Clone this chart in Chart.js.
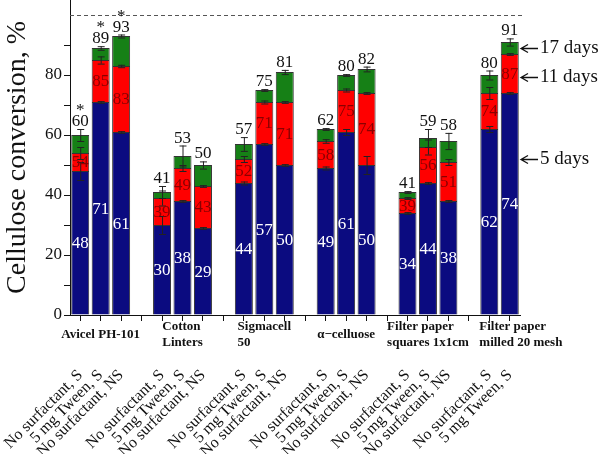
<!DOCTYPE html>
<html>
<head>
<meta charset="utf-8">
<script src="https://cdn.jsdelivr.net/npm/chart.js@4.4.0/dist/chart.umd.min.js"></script>
<style>
  html, body { margin: 0; padding: 0; background: #fff; }
</style>
</head>
<body>
<canvas id="myChart" width="598" height="454"></canvas>
<script>
// one slot per bar, '' slots are the gaps between substrates
var sampleLabels = [
    'No surfactant, S', '5 mg Tween, S', 'No surfactant, NS', '',
    'No surfactant, S', '5 mg Tween, S', 'No surfactant, NS', '',
    'No surfactant, S', '5 mg Tween, S', 'No surfactant, NS', '',
    'No surfactant, S', '5 mg Tween, S', 'No surfactant, NS', '',
    'No surfactant, S', '5 mg Tween, S', 'No surfactant, NS', '',
    'No surfactant, S', '5 mg Tween, S'
];

// cumulative conversion (%) after 5, 11 and 17 days
var day5 = [48, 71, 61, null, 30, 38, 29, null, 44, 57, 50, null, 49, 61, 50, null, 34, 44, 38, null, 62, 74];
var day11 = [54, 85, 83, null, 39, 49, 43, null, 52, 71, 71, null, 58, 75, 74, null, 39, 56, 51, null, 74, 87];
var day17 = [60, 89, 93, null, 41, 53, 50, null, 57, 75, 81, null, 62, 80, 82, null, 41, 59, 58, null, 80, 91];

// error bars (+/-) at the top of each segment
var err5 = [3, 0.3, 0.3, null, 3, 0.3, 0.3, null, 0.5, 0.3, 0.3, null, 0.5, 1, 3, null, 0.3, 0.3, 0.3, null, 1, 0.3];
var err11 = [2, 1.2, 0.4, null, 2.5, 1, 0.3, null, 1, 0.5, 0.3, null, 0.6, 0.5, 0.3, null, 0.3, 2.5, 1, null, 2, 0.3];
var err17 = [2, 0.6, 0.5, null, 2, 3.5, 1.2, null, 2.3, 0.3, 0.7, null, 0.3, 0.3, 0.8, null, 0.3, 3, 2.7, null, 1.5, 1.2];

// bars marked with an asterisk
var starred = [true, true, true];

var groupNames = ['Avicel PH-101', 'Cotton\nLinters', 'Sigmacell\n50', '\u03b1\u2212celluose', 'Filter paper\nsquares 1x1cm', 'Filter paper\nmilled 20 mesh'];
var groupFirst = [0, 4, 8, 12, 16, 20];
var groupSize = [3, 3, 3, 3, 3, 2];

var dayNames = ['5 days', '11 days', '17 days'];
var dayMarkY = [52, 79.5, 89];

var serif = '"Times New Roman", "Liberation Serif", Times, serif';

function diff(a, b) {
    return a.map(function (v, i) { return v === null ? null : v - b[i]; });
}

var dataSource = {
    labels: sampleLabels,
    datasets: [
        { label: '5 days', data: day5, backgroundColor: '#0b0b80' },
        { label: '11 days', data: diff(day11, day5), backgroundColor: '#ff0000' },
        { label: '17 days', data: diff(day17, day11), backgroundColor: '#168016' }
    ]
};

var extras = {
    id: 'extras',
    afterDatasetsDraw: function (chart) {
        var ctx = chart.ctx;
        var xs = chart.scales.x;
        var ys = chart.scales.y;
        var area = chart.chartArea;
        ctx.save();

        // dashed 100 % line
        ctx.strokeStyle = '#555';
        ctx.lineWidth = 1;
        ctx.setLineDash([4, 3]);
        ctx.beginPath();
        ctx.moveTo(area.left, ys.getPixelForValue(100) + 0.5);
        ctx.lineTo(area.right + 4, ys.getPixelForValue(100) + 0.5);
        ctx.stroke();
        ctx.setLineDash([]);

        for (var i = 0; i < sampleLabels.length; i++) {
            if (day5[i] === null) continue;
            var x = xs.getPixelForValue(i);

            // error bars
            var tops = [day5[i], day11[i], day17[i]];
            var errs = [err5[i], err11[i], err17[i]];
            ctx.strokeStyle = '#222';
            ctx.lineWidth = 1;
            for (var k = 0; k < 3; k++) {
                var y1 = ys.getPixelForValue(tops[k] - errs[k]);
                var y2 = ys.getPixelForValue(tops[k] + errs[k]);
                ctx.beginPath();
                ctx.moveTo(x + 0.5, y1);
                ctx.lineTo(x + 0.5, y2);
                ctx.moveTo(x - 3, y1 + 0.5);
                ctx.lineTo(x + 4, y1 + 0.5);
                ctx.moveTo(x - 3, y2 + 0.5);
                ctx.lineTo(x + 4, y2 + 0.5);
                ctx.stroke();
            }

            // values inside the segments
            ctx.font = '17px ' + serif;
            ctx.textAlign = 'center';
            ctx.textBaseline = 'middle';
            ctx.fillStyle = '#ffffff';
            ctx.fillText(day5[i], x, (ys.getPixelForValue(0) + ys.getPixelForValue(day5[i])) / 2 + 1);
            ctx.fillStyle = '#8a0000';
            ctx.fillText(day11[i], x, (ys.getPixelForValue(day5[i]) + ys.getPixelForValue(day11[i])) / 2 + 1);

            // totals above the bars
            var topY = ys.getPixelForValue(day17[i] + err17[i]) - 3;
            ctx.fillStyle = '#111';
            ctx.textBaseline = 'alphabetic';
            ctx.fillText(day17[i], x, topY);
            if (starred[i]) {
                ctx.fillText('*', x, topY - 11);
            }
        }

        // substrate names under the axis
        ctx.font = 'bold 13px ' + serif;
        ctx.fillStyle = '#111';
        ctx.textAlign = 'left';
        ctx.textBaseline = 'middle';
        for (var g = 0; g < groupNames.length; g++) {
            var lines = groupNames[g].split('\n');
            var w = Math.max.apply(null, lines.map(function (l) { return ctx.measureText(l).width; }));
            var first = xs.getPixelForValue(groupFirst[g]);
            var mid = xs.getPixelForValue(groupFirst[g] + (groupSize[g] - 1) / 2);
            var left = groupSize[g] < 3 ? first - 10 : mid - w / 2;
            var y0 = lines.length > 1 ? 327 : 335;
            for (var l = 0; l < lines.length; l++) {
                ctx.fillText(lines[l], left, y0 + l * 16);
            }
        }

        // day markers on the right
        ctx.font = '19px ' + serif;
        ctx.textBaseline = 'middle';
        ctx.strokeStyle = '#111';
        ctx.lineWidth = 1.3;
        for (var d = 0; d < dayNames.length; d++) {
            var my = Math.round(ys.getPixelForValue(dayMarkY[d])) + 0.5;
            var ax = area.right + 1;
            ctx.beginPath();
            ctx.moveTo(ax + 17, my);
            ctx.lineTo(ax, my);
            ctx.moveTo(ax + 7, my - 4);
            ctx.lineTo(ax, my);
            ctx.lineTo(ax + 7, my + 4);
            ctx.stroke();
            ctx.fillText(dayNames[d], ax + 19, my);
        }
        ctx.restore();
    }
};

function createChart() {
    var ctx = document.getElementById('myChart').getContext('2d');
    var myChart = new Chart(ctx, {
        type: 'bar',
        data: dataSource,
        plugins: [extras],
        options: {
            responsive: false,
            animation: false,
            layout: { padding: { left: 0, right: 78, top: 0, bottom: 0 } },
            datasets: {
                bar: {
                    barPercentage: 0.88,
                    categoryPercentage: 1,
                    borderColor: '#333',
                    borderWidth: 1
                }
            },
            plugins: {
                legend: { display: false },
                tooltip: { enabled: false }
            },
            scales: {
                x: {
                    stacked: true,
                    offset: true,
                    grid: { offset: false, drawOnChartArea: false, tickLength: 6, color: '#111' },
                    border: { color: '#111', width: 1 },
                    ticks: {
                        autoSkip: false,
                        minRotation: 45,
                        maxRotation: 45,
                        padding: 45,
                        color: '#111',
                        font: { family: serif, size: 16 }
                    },
                    afterFit: function (axis) {
                        axis.height = 139;
                        axis.paddingLeft = 0;
                        axis.paddingRight = 0;
                    }
                },
                y: {
                    stacked: true,
                    min: 0,
                    max: 105,
                    grid: { drawOnChartArea: false, tickLength: 6, color: '#111' },
                    border: { color: '#111', width: 1 },
                    ticks: {
                        stepSize: 10,
                        padding: 2,
                        color: '#111',
                        font: { family: serif, size: 17 },
                        callback: function (v) { return v % 20 === 0 ? v : ''; }
                    },
                    afterBuildTicks: function (axis) {
                        axis.ticks = axis.ticks.filter(function (t) { return t.value <= 100; });
                    },
                    title: {
                        display: true,
                        text: 'Cellulose conversion, %',
                        color: '#111',
                        padding: { top: 1, bottom: 0 },
                        font: { family: serif, size: 28 }
                    },
                    afterFit: function (axis) {
                        axis.width = 70;
                        axis.paddingTop = 0;
                        axis.paddingBottom = 0;
                    }
                }
            }
        }
    });
}

createChart();
</script>
</body>
</html>
